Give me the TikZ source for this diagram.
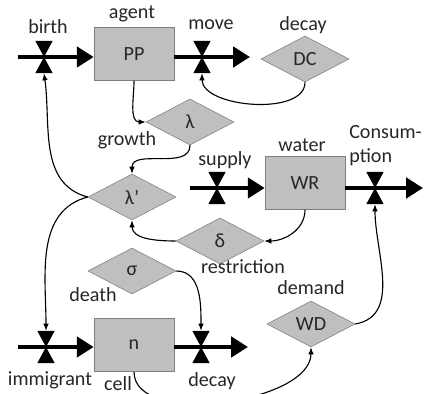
\documentclass[tikz,border=0pt]{standalone}
\usepackage{fontspec}
\setmainfont{Carlito}
\usetikzlibrary{shapes.geometric,arrows.meta}
\definecolor{stockgray}{RGB}{191,191,191}
\definecolor{edgegray}{RGB}{127,127,127}
\definecolor{textgray}{RGB}{38,38,38}

\begin{document}
\begin{tikzpicture}[x=0.025cm,y=-0.025cm,
    every node/.style={font=\fontsize{14.3}{17}\selectfont,text=textgray},
    stock/.style={draw=edgegray,fill=stockgray,minimum width=2cm,minimum height=1.33cm,inner sep=0},
    param/.style={diamond,draw=edgegray,fill=stockgray,minimum width=2.2cm,minimum height=1.15cm,inner sep=0},
    valve/.style={minimum width=0.43cm,minimum height=0.8cm,inner sep=0,
        path picture={\fill (path picture bounding box.north west) -- (path picture bounding box.north east)
            -- (path picture bounding box.south west) -- (path picture bounding box.south east) -- cycle;}},
    flow/.style={line width=3.5pt,-{Triangle[length=0.42cm,width=0.5cm]}},
    link/.style={line width=0.8pt,-{Latex[length=5pt,width=4pt]}}]
            \useasboundingbox (0,0) rectangle (424,394);
            \node[stock] (PP) at (134,54) {PP};
            \node[stock] (WR) at (305,183) {WR};
            \node[stock] (n) at (134,345) {n};
            \node[param] (DC) at (305,59) {DC};
            \node[param] (lam) at (190,122) {λ};
            \node[param] (lamp) at (132,197) {λ'};
            \node[param] (del) at (220,241) {δ};
            \node[param] (sig) at (132,271) {σ};
            \node[param] (WD) at (311,324) {WD};
            \coordinate (birthIn) at (18,57);
            \coordinate (moveOut) at (250,57);
            \coordinate (supIn) at (190,188);
            \coordinate (conOut) at (423,188);
            \coordinate (immIn) at (18,347);
            \coordinate (decOut) at (248,347);
            \draw[flow] (birthIn) -- (birthIn -| PP.west);
            \draw[flow] (moveOut -| PP.east) -- (moveOut);
            \draw[flow] (supIn) -- (supIn -| WR.west);
            \draw[flow] (conOut -| WR.east) -- (conOut);
            \draw[flow] (immIn) -- (immIn -| n.west);
            \draw[flow] (decOut -| n.east) -- (decOut);
            \node[valve] (birth) at (44,57) {};
            \node[valve] (move) at (202,57) {};
            \node[valve] (supply) at (217,188) {};
            \node[valve] (cons) at (375,188) {};
            \node[valve] (imm) at (46,347) {};
            \node[valve] (decay) at (201,347) {};
            \draw[link] (PP.south) to[out=-90,in=180] (lam.west);
            \draw[link] (lam.south) to[out=-90,in=90] (lamp.north);
            \draw[link] (lamp.west) to[out=165,in=-82] (birth.south);
            \draw[link] (lamp.west) to[out=195,in=90] (imm.north);
            \draw[link] (DC.south) to[out=-90,in=-90,looseness=0.85] (move.south);
            \draw[link] (WR.south) to[out=-90,in=0] (del.east);
            \draw[link] (del.west) to[out=180,in=-90] (lamp.south);
            \draw[link] (sig.east) to[out=0,in=90] (decay.north);
            \draw[link] (n.south) to[out=-90,in=-90,looseness=0.8] (WD.south);
            \draw[link] (WD.east) to[out=10,in=-90] (cons.south);
            \node (lbirth) at (48,27) {birth};
            \node (lagent) at (132,14) {agent};
            \node (lmove) at (211,25) {move};
            \node (ldecayup) at (303,25) {decay};
            \node (lgrowth) at (127,140) {growth};
            \node (lsupply) at (225,160) {supply};
            \node (lwater) at (302,145) {water};
            \node[align=left,anchor=west,inner sep=0] (lcons) at (349,146) {Consum-\\ption};
            \node (lrestr) at (243,267) {restriction};
            \node (ldemand) at (311,288) {demand};
            \node (ldeath) at (93,295) {death};
            \node (limm) at (50,380) {immigrant};
            \node[inner sep=0] (lcell) at (118,384) {cell};
            \node (ldecay) at (212,381) {decay};
        \end{tikzpicture}
\end{document}
